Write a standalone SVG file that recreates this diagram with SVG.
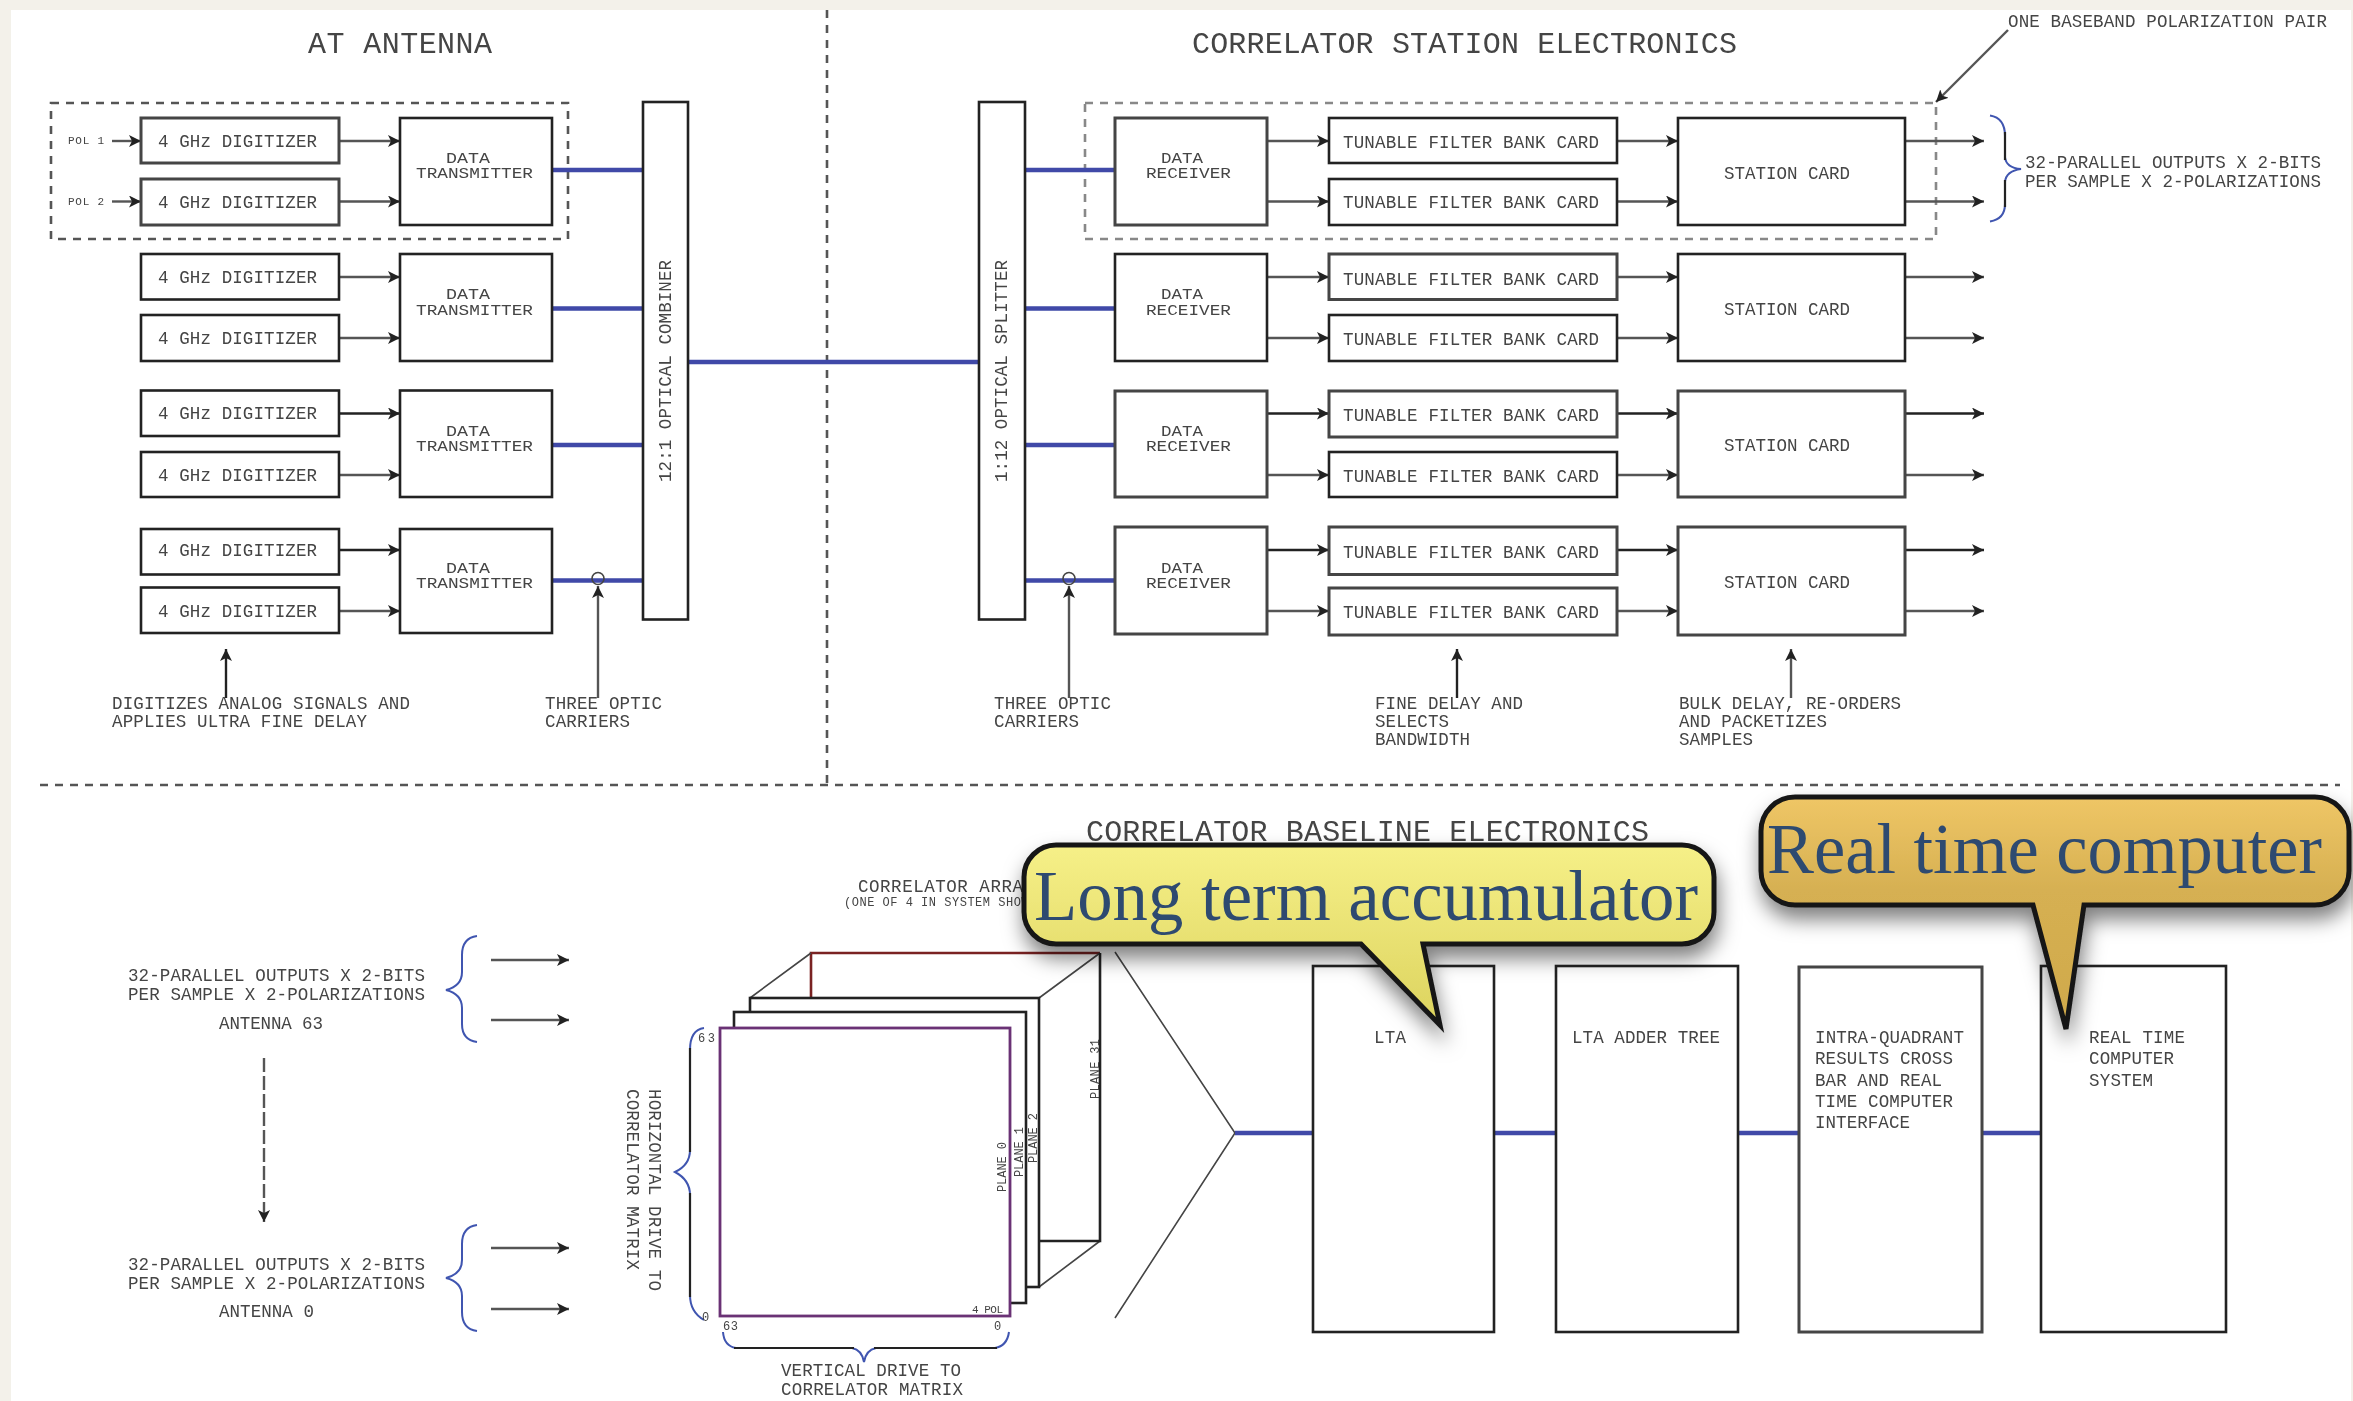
<svg xmlns="http://www.w3.org/2000/svg" width="2353" height="1401" viewBox="0 0 2353 1401">
<style>
text{font-family:"Liberation Mono","DejaVu Sans Mono",monospace;fill:#444;font-size:17.5px;white-space:pre}
.t{font-size:30px}.s{font-size:12px}.xs{font-size:11px}.k{font-size:14.5px}
.b{fill:#fff;stroke:#222;stroke-width:2.6}
.g{fill:#fff;stroke:#444;stroke-width:3}
.a{fill:none;stroke:#555;stroke-width:2.4;marker-end:url(#ah)}
.d{stroke:#222}
.o{fill:none;stroke:#3f49a8;stroke-width:4.5}
.dash{fill:none;stroke:#555;stroke-width:2.6;stroke-dasharray:8 7}
.lt{stroke:#888}
.br{fill:none;stroke:#3f55b0;stroke-width:2}
.bk{fill:none;stroke:#222;stroke-width:2.2}
.c{fill:none;stroke:#444;stroke-width:1.6}
.call{stroke:#161616;stroke-width:5;filter:url(#sh)}
.ct{font-family:"Liberation Serif",serif;font-size:72px;fill:#2e4a70}
</style>
<defs>
<marker id="ah" markerUnits="userSpaceOnUse" markerWidth="14" markerHeight="12" refX="12" refY="6" orient="auto"><path d="M0,0 L12,6 L0,12 L3,6 Z" fill="#222"/></marker>
<filter id="soft" x="0" y="0" width="100%" height="100%"><feGaussianBlur stdDeviation="0.7"/></filter>
<filter id="sh" x="-10%" y="-20%" width="120%" height="160%"><feDropShadow dx="2" dy="12" stdDeviation="10" flood-color="#000" flood-opacity="0.5"/></filter>
<linearGradient id="yel" x1="0" y1="0" x2="0" y2="1"><stop offset="0" stop-color="#f6f088"/><stop offset="1" stop-color="#dcd35e"/></linearGradient>
<linearGradient id="gold" x1="0" y1="0" x2="0" y2="1"><stop offset="0" stop-color="#efc666"/><stop offset="0.4" stop-color="#d6b052"/><stop offset="1" stop-color="#cfa94b"/></linearGradient>
</defs>
<rect width="2353" height="1401" fill="#f3f1ea"/>
<rect x="11" y="10" width="2340" height="1391" fill="#fff"/>
<g id="diagram" filter="url(#soft)">
<g id="dividers">
<path class="dash" d="M827,10V785"/>
<path class="dash" stroke-dasharray="7 6" d="M40,785H2340"/>
<rect class="dash" x="51" y="103" width="517" height="136"/>
<rect class="dash lt" x="1085" y="103" width="851" height="136"/>
</g>
<g id="titles">
<text class="t" x="308" y="53" textLength="184">AT ANTENNA</text>
<text class="t" x="1192" y="53" textLength="545">CORRELATOR STATION ELECTRONICS</text>
<text class="t" x="1086" y="841" textLength="563">CORRELATOR BASELINE ELECTRONICS</text>
<text x="2008" y="27" textLength="319">ONE BASEBAND POLARIZATION PAIR</text>
</g>
<g id="connectors">
<path class="a" d="M112,141H141"/><path class="a" d="M112,201.5H141"/>
<path class="a" d="M339,141H400"/><path class="a" d="M339,201.5H400"/><path class="a" d="M339,277H400"/><path class="a" d="M339,338H400"/><path class="a d" d="M339,413.5H400"/><path class="a" d="M339,475H400"/><path class="a d" d="M339,550H400"/><path class="a" d="M339,611H400"/>
<path class="a" d="M1267,141H1329"/><path class="a" d="M1267,201.5H1329"/><path class="a" d="M1267,277H1329"/><path class="a" d="M1267,338H1329"/><path class="a d" d="M1267,413.5H1329"/><path class="a" d="M1267,475H1329"/><path class="a d" d="M1267,550H1329"/><path class="a" d="M1267,611H1329"/>
<path class="a" d="M1617,141H1678"/><path class="a" d="M1617,201.5H1678"/><path class="a" d="M1617,277H1678"/><path class="a" d="M1617,338H1678"/><path class="a d" d="M1617,413.5H1678"/><path class="a" d="M1617,475H1678"/><path class="a d" d="M1617,550H1678"/><path class="a" d="M1617,611H1678"/>
<path class="a" d="M1905,141H1984"/><path class="a" d="M1905,201.5H1984"/><path class="a" d="M1905,277H1984"/><path class="a" d="M1905,338H1984"/><path class="a d" d="M1905,413.5H1984"/><path class="a" d="M1905,475H1984"/><path class="a d" d="M1905,550H1984"/><path class="a" d="M1905,611H1984"/>
<path class="o" d="M552,170H647M552,308.5H647M552,445H647M552,580.5H647M688,362H979M1022,170H1115M1022,308.5H1115M1022,445H1115M1022,580.5H1115"/>
<circle class="c" cx="598" cy="578.5" r="6"/><circle class="c" cx="1069" cy="578.5" r="6"/>
<path class="a d" d="M226,698V649"/><path class="a" d="M598,698V586"/><path class="a" d="M1069,698V586"/><path class="a d" d="M1457,698V649"/><path class="a" d="M1791,698V649"/>
<path class="a" d="M2008,30L1936,102"/>
<path class="a" d="M491,960H569"/><path class="a" d="M491,1020H569"/><path class="a" d="M491,1248H569"/><path class="a" d="M491,1309H569"/>
<path class="a" stroke-dasharray="14 4" d="M264,1058V1222"/>
<path class="c" d="M1115,952L1235,1133L1115,1318"/>
<path class="o" d="M1235,1133H1313M1494,1133H1559M1738,1133H1802M1980,1133H2044"/>
<path class="br" d="M1990,115.5Q2005,118 2005,136M2005,157Q2006,168 2021,169Q2006,171 2005,182M2005,204Q2005,219 1990,221.5"/>
<path class="bk" d="M2005,132V160M2005,180V207"/>
<path class="br" d="M477,936Q462,938 462,955V972Q462,986 446,990Q462,994 462,1008V1024Q462,1040 477,1042"/>
<path class="br" d="M477,1225Q462,1227 462,1244V1260Q462,1274 446,1278Q462,1282 462,1296V1312Q462,1329 477,1331"/>
<path class="br" d="M704,1028Q690,1030 690,1050M690,1150Q690,1165 675,1172Q690,1180 690,1195M690,1295Q690,1312 704,1320"/>
<path class="bk" d="M690,1048V1152M690,1193V1297"/>
<path class="br" d="M723,1332Q724,1346 736,1348M852,1348Q862,1350 864,1362Q866,1350 876,1348M995,1348Q1007,1346 1009,1332"/>
<path class="bk" d="M734,1348H854M874,1348H997"/>
</g>
<g id="pol-labels"><text class="xs" x="68" y="144" textLength="36">POL 1</text><text class="xs" x="68" y="204.5" textLength="36">POL 2</text></g>
<g id="digitizer-1"><rect class="g" x="141" y="118" width="198" height="45"/><text x="158" y="147" textLength="159">4 GHz DIGITIZER</text></g>
<g id="digitizer-2"><rect class="g" x="141" y="179" width="198" height="46"/><text x="158" y="207.5" textLength="159">4 GHz DIGITIZER</text></g>
<g id="digitizer-3"><rect class="b" x="141" y="254" width="198" height="45.5"/><text x="158" y="283" textLength="159">4 GHz DIGITIZER</text></g>
<g id="digitizer-4"><rect class="b" x="141" y="315" width="198" height="46"/><text x="158" y="344" textLength="159">4 GHz DIGITIZER</text></g>
<g id="digitizer-5"><rect class="b" x="141" y="390.5" width="198" height="45.5"/><text x="158" y="419" textLength="159">4 GHz DIGITIZER</text></g>
<g id="digitizer-6"><rect class="b" x="141" y="452" width="198" height="45"/><text x="158" y="480.5" textLength="159">4 GHz DIGITIZER</text></g>
<g id="digitizer-7"><rect class="b" x="141" y="529" width="198" height="45.5"/><text x="158" y="556" textLength="159">4 GHz DIGITIZER</text></g>
<g id="digitizer-8"><rect class="b" x="141" y="587.5" width="198" height="45.5"/><text x="158" y="617" textLength="159">4 GHz DIGITIZER</text></g>
<g id="transmitter-1"><rect class="b" x="400" y="118" width="152" height="107"/><text class="k" lengthAdjust="spacingAndGlyphs" x="446" y="162.5" textLength="44">DATA</text><text class="k" lengthAdjust="spacingAndGlyphs" x="416" y="178" textLength="117">TRANSMITTER</text></g>
<g id="transmitter-2"><rect class="b" x="400" y="254" width="152" height="107"/><text class="k" lengthAdjust="spacingAndGlyphs" x="446" y="299" textLength="44">DATA</text><text class="k" lengthAdjust="spacingAndGlyphs" x="416" y="314.5" textLength="117">TRANSMITTER</text></g>
<g id="transmitter-3"><rect class="b" x="400" y="390.5" width="152" height="106.5"/><text class="k" lengthAdjust="spacingAndGlyphs" x="446" y="435.5" textLength="44">DATA</text><text class="k" lengthAdjust="spacingAndGlyphs" x="416" y="451" textLength="117">TRANSMITTER</text></g>
<g id="transmitter-4"><rect class="b" x="400" y="529" width="152" height="104"/><text class="k" lengthAdjust="spacingAndGlyphs" x="446" y="572.5" textLength="44">DATA</text><text class="k" lengthAdjust="spacingAndGlyphs" x="416" y="587.5" textLength="117">TRANSMITTER</text></g>
<g id="combiner"><rect class="b" x="643" y="102" width="45" height="517.5"/><text transform="translate(671,482) rotate(-90)" textLength="222">12:1 OPTICAL COMBINER</text></g>
<g id="splitter"><rect class="b" x="979" y="102" width="46" height="517.5"/><text transform="translate(1007,482) rotate(-90)" textLength="222">1:12 OPTICAL SPLITTER</text></g>
<g id="receiver-1"><rect class="g" x="1115" y="118" width="152" height="107"/><text class="k" lengthAdjust="spacingAndGlyphs" x="1161" y="162.5" textLength="42">DATA</text><text class="k" lengthAdjust="spacingAndGlyphs" x="1146" y="178" textLength="85">RECEIVER</text></g>
<g id="receiver-2"><rect class="b" x="1115" y="254" width="152" height="107"/><text class="k" lengthAdjust="spacingAndGlyphs" x="1161" y="299" textLength="42">DATA</text><text class="k" lengthAdjust="spacingAndGlyphs" x="1146" y="314.5" textLength="85">RECEIVER</text></g>
<g id="receiver-3"><rect class="g" x="1115" y="391" width="152" height="106"/><text class="k" lengthAdjust="spacingAndGlyphs" x="1161" y="435.5" textLength="42">DATA</text><text class="k" lengthAdjust="spacingAndGlyphs" x="1146" y="451" textLength="85">RECEIVER</text></g>
<g id="receiver-4"><rect class="g" x="1115" y="527" width="152" height="107"/><text class="k" lengthAdjust="spacingAndGlyphs" x="1161" y="572.5" textLength="42">DATA</text><text class="k" lengthAdjust="spacingAndGlyphs" x="1146" y="587.5" textLength="85">RECEIVER</text></g>
<g id="filter-1"><rect class="b" x="1329" y="118" width="288" height="45"/><text x="1343" y="148" textLength="256">TUNABLE FILTER BANK CARD</text></g>
<g id="filter-2"><rect class="b" x="1329" y="179" width="288" height="46"/><text x="1343" y="208" textLength="256">TUNABLE FILTER BANK CARD</text></g>
<g id="filter-3"><rect class="g" x="1329" y="254" width="288" height="45.5"/><text x="1343" y="284.5" textLength="256">TUNABLE FILTER BANK CARD</text></g>
<g id="filter-4"><rect class="b" x="1329" y="315" width="288" height="46"/><text x="1343" y="345" textLength="256">TUNABLE FILTER BANK CARD</text></g>
<g id="filter-5"><rect class="g" x="1329" y="391" width="288" height="46"/><text x="1343" y="421" textLength="256">TUNABLE FILTER BANK CARD</text></g>
<g id="filter-6"><rect class="b" x="1329" y="452" width="288" height="45"/><text x="1343" y="482" textLength="256">TUNABLE FILTER BANK CARD</text></g>
<g id="filter-7"><rect class="g" x="1329" y="527" width="288" height="47.5"/><text x="1343" y="558" textLength="256">TUNABLE FILTER BANK CARD</text></g>
<g id="filter-8"><rect class="g" x="1329" y="588" width="288" height="47"/><text x="1343" y="618" textLength="256">TUNABLE FILTER BANK CARD</text></g>
<g id="station-1"><rect class="b" x="1678" y="118" width="227" height="107"/><text x="1724" y="178.5" textLength="126">STATION CARD</text></g>
<g id="station-2"><rect class="b" x="1678" y="254" width="227" height="107"/><text x="1724" y="315" textLength="126">STATION CARD</text></g>
<g id="station-3"><rect class="g" x="1678" y="391" width="227" height="106"/><text x="1724" y="451" textLength="126">STATION CARD</text></g>
<g id="station-4"><rect class="g" x="1678" y="527" width="227" height="108"/><text x="1724" y="587.5" textLength="126">STATION CARD</text></g>
<g id="notes">
<text x="112" y="708.5" textLength="298">DIGITIZES ANALOG SIGNALS AND</text><text x="112" y="726.5" textLength="255">APPLIES ULTRA FINE DELAY</text>
<text x="545" y="708.5" textLength="117">THREE OPTIC</text><text x="545" y="726.5" textLength="85">CARRIERS</text>
<text x="994" y="708.5" textLength="117">THREE OPTIC</text><text x="994" y="726.5" textLength="85">CARRIERS</text>
<text x="1375" y="708.5" textLength="148">FINE DELAY AND</text><text x="1375" y="726.5" textLength="74">SELECTS</text><text x="1375" y="745" textLength="95">BANDWIDTH</text>
<text x="1679" y="708.5" textLength="222">BULK DELAY, RE-ORDERS</text><text x="1679" y="726.5" textLength="148">AND PACKETIZES</text><text x="1679" y="745" textLength="74">SAMPLES</text>
<text x="2025" y="168" textLength="296">32-PARALLEL OUTPUTS X 2-BITS</text><text x="2025" y="186.5" textLength="296">PER SAMPLE X 2-POLARIZATIONS</text>
<text x="128" y="981" textLength="297">32-PARALLEL OUTPUTS X 2-BITS</text><text x="128" y="1000" textLength="297">PER SAMPLE X 2-POLARIZATIONS</text><text x="219" y="1029" textLength="104">ANTENNA 63</text>
<text x="128" y="1270" textLength="297">32-PARALLEL OUTPUTS X 2-BITS</text><text x="128" y="1288.5" textLength="297">PER SAMPLE X 2-POLARIZATIONS</text><text x="219" y="1317" textLength="95">ANTENNA 0</text>
<text transform="translate(649,1089) rotate(90)" textLength="202">HORIZONTAL DRIVE TO</text><text transform="translate(627,1089) rotate(90)" textLength="181">CORRELATOR MATRIX</text>
<text x="781" y="1376" textLength="180">VERTICAL DRIVE TO</text><text x="781" y="1394.5" textLength="182">CORRELATOR MATRIX</text>
<text x="858" y="892" textLength="176">CORRELATOR ARRAY</text><text class="s" x="844" y="906" textLength="200">(ONE OF 4 IN SYSTEM SHOWN)</text>
</g>
<g id="correlator-array">
<path fill="none" stroke="#7a2020" stroke-width="2.6" d="M811,998V953H1100"/>
<path class="c" d="M750,998L811,953M1039,998L1100,953M1039,1287L1100,1241"/>
<path fill="none" stroke="#222" stroke-width="2.6" d="M1100,953V1241H1039"/>
<rect class="b" x="750" y="998" width="289" height="289"/>
<rect class="b" x="734" y="1012" width="292" height="291"/>
<rect x="720" y="1028" width="290" height="288" fill="#fff" stroke="#6a3074" stroke-width="2.8"/>
<text class="s" transform="translate(1099,1099) rotate(-90)" textLength="60">PLANE 31</text>
<text class="s" transform="translate(1037,1163) rotate(-90)" textLength="50">PLANE 2</text>
<text class="s" transform="translate(1023,1177) rotate(-90)" textLength="50">PLANE 1</text>
<text class="s" transform="translate(1006,1192) rotate(-90)" textLength="50">PLANE 0</text>
<text class="xs" x="972" y="1313" textLength="31">4 POL</text>
<text class="s" x="698" y="1042" textLength="17">63</text><text class="s" x="702" y="1321" textLength="8">0</text>
<text class="s" x="723" y="1330" textLength="15">63</text><text class="s" x="994" y="1330" textLength="8">0</text>
</g>
<g id="lta"><rect class="b" x="1313" y="966" width="181" height="366"/><text x="1374" y="1043" textLength="32">LTA</text></g>
<g id="lta-adder"><rect class="b" x="1556" y="966" width="182" height="366"/><text x="1572" y="1043" textLength="148">LTA ADDER TREE</text></g>
<g id="intra-quadrant"><rect class="g" x="1799" y="967" width="183" height="365"/><text x="1815" y="1043" textLength="149">INTRA-QUADRANT</text><text x="1815" y="1064" textLength="138">RESULTS CROSS</text><text x="1815" y="1086" textLength="127">BAR AND REAL</text><text x="1815" y="1107" textLength="138">TIME COMPUTER</text><text x="1815" y="1128" textLength="95">INTERFACE</text></g>
<g id="rtc"><rect class="b" x="2041" y="966" width="185" height="366"/><text x="2089" y="1043" textLength="96">REAL TIME</text><text x="2089" y="1064" textLength="85">COMPUTER</text><text x="2089" y="1086" textLength="64">SYSTEM</text></g>
</g>
<g id="callout-lta">
<path class="call" fill="url(#yel)" d="M1056,845H1682A32,32 0 0 1 1714,877V912A32,32 0 0 1 1682,944H1423L1440,1025L1361,944H1056A32,32 0 0 1 1024,912V877A32,32 0 0 1 1056,845Z"/>
<text class="ct" x="1034" y="920" textLength="664" lengthAdjust="spacingAndGlyphs">Long term accumulator</text>
</g>
<g id="callout-rtc">
<path class="call" fill="url(#gold)" d="M1795,797H2315A34,34 0 0 1 2349,831V871A34,34 0 0 1 2315,905H2084L2066,1029L2033,905H1795A34,34 0 0 1 1761,871V831A34,34 0 0 1 1795,797Z"/>
<text class="ct" x="1767" y="873" textLength="555" lengthAdjust="spacingAndGlyphs">Real time computer</text>
</g>
</svg>
